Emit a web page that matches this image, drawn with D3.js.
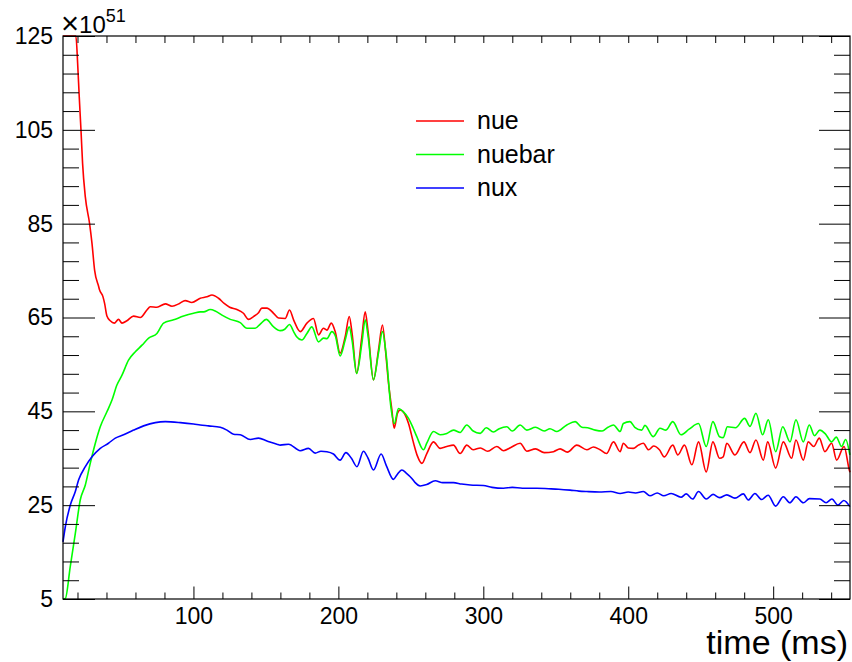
<!DOCTYPE html>
<html><head><meta charset="utf-8">
<script src="https://cdn.jsdelivr.net/npm/d3@7"></script>
<style>
html,body{margin:0;padding:0;background:#fff;}
svg{display:block;font-family:"Liberation Sans",Arial,Helvetica,sans-serif;}
</style></head>
<body>
<svg id="chart" width="852" height="662"></svg>
<script>
const xDomain = [10, 553];
const yDomain = [5, 125];
const xMajorTicks = [100, 200, 300, 400, 500];
const yMajorTicks = [5, 25, 45, 65, 85, 105, 125];
const seriesNames = ["nue", "nuebar", "nux"];
const seriesColors = ["#ff0000", "#00ff00", "#0000ff"];
const xTitle = "time (ms)";

const nue = [[10,135],[14,131],[18,127],[18.9,125.2],[20.1,119.2],[21.2,112.1],[22.4,105],[23.5,97.9],[25.4,90.7],[28.3,85.1],[30,80.8],[31.8,75.1],[34.6,71.6],[35.2,70.9],[37.6,69.4],[38.7,68],[40.3,65.3],[42.6,64.3],[45.4,63.8],[48.3,64.6],[50.7,63.8],[54.1,64.3],[58.7,65.3],[63.3,65],[67.9,66.6],[70.2,67.3],[74.8,67.2],[80.6,67.9],[85.2,67.4],[90.4,68],[94.3,68.6],[98.9,68.2],[104.7,69.1],[109.3,69.4],[112.8,69.8],[117.3,69.1],[121.2,68],[125,67.2],[130,66.7],[134.5,65.9],[138,64.6],[141.4,65.2],[144.9,66],[147.2,67],[150.7,67],[155.3,65.9],[158.7,64.9],[163.3,64.8],[166.3,66.6],[169.1,64.5],[173.7,62],[178.3,63.8],[182.8,64.8],[186.3,61.3],[189.7,62.7],[192.1,62.3],[195.1,63.8],[197.8,62],[201.2,57.4],[204.7,60.9],[207.5,65.2],[209.5,61.5],[212.6,53.1],[216.2,60.9],[218.5,66.2],[220.5,62],[224.2,51.7],[227.7,58.1],[230.4,63.4],[232.5,58],[234.6,51],[236.9,45.3],[238.5,41.4],[240.8,44.6],[242.6,45.3],[245.5,44.6],[248.4,42.4],[251.9,38.2],[254.5,35.5],[257.6,33.9],[261,36],[265.6,38.5],[270.2,37.1],[274.8,37.5],[279.4,37.8],[284,36],[288.6,37.8],[293,36.8],[298,37.2],[303,36.5],[309.3,37.5],[314,36.6],[319,37.3],[325.4,38.2],[330,36.5],[336,37],[342,36.2],[348.4,36.4],[353,37],[358,36.3],[364.5,37.8],[371.4,36.8],[376,37.4],[380.6,36.8],[385,36],[389.8,38.5],[394.4,36.4],[396.6,38.2],[400,37.2],[403.5,37.1],[407,37.8],[410.4,38.2],[414,36.8],[417.5,37.6],[421.5,36.8],[424.9,35.3],[430.7,37.8],[434.2,35.7],[438.8,37.8],[443.9,33.6],[448.5,38.5],[453.8,32.1],[458.4,38.5],[463,35],[465.5,35.3],[468,38.2],[473.6,35.7],[479.8,38.5],[484,36.2],[488.1,38.9],[493.2,34.6],[496.2,38.5],[501.7,32.9],[507,38.5],[512.7,35],[515.7,38.9],[520.8,34.6],[524.2,38.5],[528,37.5],[531.8,39.3],[535.7,36.4],[540.3,38.2],[543.8,34.6],[548.9,37.5],[552.5,32.5],[553,32]];

const nuebar = [[10,2],[11.6,5.1],[15,11.9],[18.5,19],[21.9,26.1],[25.4,29.3],[28.8,33.9],[32.3,38.2],[35.7,41.7],[40.3,44.9],[43.8,47.4],[47.2,50.6],[50.7,52.7],[55.2,55.9],[59.9,57.7],[64.5,59.1],[69.1,60.6],[74.8,61.6],[79.4,63.8],[86.3,64.5],[93.2,65.3],[100.1,65.9],[104.7,66.2],[107,66.2],[111.6,66.7],[115,66.4],[119.7,65.5],[125.4,64.6],[132.3,63.9],[136.9,62.7],[142.6,62.7],[146.1,63.6],[150.2,64.6],[155.3,63],[159.9,62.2],[163,62.5],[166.3,63.5],[169.1,62],[171.2,60.9],[174.8,60.2],[178.3,61.6],[181.7,63],[186.3,59.8],[189.7,60.6],[192.1,60.5],[195.5,62],[198,61],[201.2,56.8],[204.7,60.2],[207.5,63],[209.5,60],[212.6,53.1],[216.2,59.5],[218.5,64.5],[220.5,61],[224.2,51.7],[227.7,57.5],[230.4,62],[233,57],[236.2,46],[238.5,42.4],[241.5,45.6],[244.5,45],[248.4,43.5],[251.5,41.5],[254.1,39.6],[258.7,36.8],[261,38.2],[265.6,40.7],[270.2,40],[274.8,40.3],[279.4,41],[284,40.5],[288.6,42.1],[293,40.8],[297.9,40.3],[302,41.5],[307,40.6],[311,41.3],[316.2,41.7],[320,40.8],[325.4,42.1],[330,41],[336,41.6],[342,40.8],[346,41.3],[350.7,40.7],[357.6,42.1],[363.4,42.8],[368,41.6],[372,41.5],[377.2,41],[382,40.8],[386,41.6],[389.8,42.1],[394.4,40.7],[396.6,42.4],[401.2,42.8],[404.5,41.6],[409.3,41],[411.5,42],[417.3,39.6],[421.9,41.4],[426,41],[430.7,42.8],[436.4,40],[442,41.2],[448.5,42.4],[453.8,37.5],[458.4,42.8],[463,39.6],[465.5,39.4],[468.4,41.7],[474,41.5],[480.3,43.5],[484,41.8],[488.1,44.6],[492.7,40],[496.6,43.2],[501.7,36.4],[506.6,41.7],[511.6,38.5],[515.7,43.2],[520.8,38.5],[524.9,42.1],[528.5,39.8],[532.2,41],[536,40.2],[540.3,38.5],[543.5,39.5],[547.2,37.5],[550,39],[552.9,35.7]];

const nux = [[10,17.2],[11.6,20.4],[15,25],[18.5,27.9],[20.8,30.4],[25.4,33.2],[30,35.3],[35.7,37.1],[41.4,38.2],[46.1,39.3],[51.8,40],[58.7,41],[65.6,41.9],[73.7,42.6],[80.6,42.8],[91,42.6],[100.1,42.3],[104.7,42.1],[110.4,41.9],[118.5,41.6],[123.1,41],[127.7,40.1],[132.3,40],[139.2,39],[144.9,39.3],[150.7,38.7],[157.6,38],[159.9,37.8],[165.6,38],[173.7,36.6],[179.4,37.1],[184,36.1],[188,36.5],[192.1,36.4],[196.6,35.9],[201.2,34.6],[205.2,36.2],[209,35],[212.8,33.2],[217.3,36.5],[220.5,35],[224.2,32.5],[229.5,35.9],[233,33.5],[238,30.5],[240.5,31.5],[243.8,32.5],[247,31.8],[250.7,30.7],[253,29.8],[256.4,29.1],[261,29.4],[266.8,30.2],[272,29.8],[279.4,29.8],[285,29.5],[291,29.3],[300,29.2],[306,28.8],[313.9,28.6],[320,28.8],[327,28.6],[336.9,28.6],[345,28.5],[352,28.4],[359.9,28.2],[366,28],[371.4,27.9],[380,27.8],[388,27.9],[394.4,27.5],[400,27.8],[405,27.6],[410.4,27.9],[415,27],[420,27.6],[424.5,27],[429.6,27.5],[436.4,26.7],[440,27.4],[444.4,26.3],[448.5,27.9],[453.8,26.3],[458.5,27.3],[463,26.6],[468,27.2],[473.6,26.5],[479.4,27.4],[482.8,26.1],[487.4,27.5],[492,26.2],[496.5,27.1],[501.7,24.8],[507,26.8],[511.5,25.5],[515.7,26.8],[520.8,25.5],[525,26.4],[532.2,26.3],[536.5,25.5],[540.5,26.3],[544.7,25],[548.7,26],[552.9,24.7]];

const seriesData = [nue, nuebar, nux];

const frame = {left: 63, right: 850, top: 36, bottom: 599};
const svg = d3.select("#chart");
const x = d3.scaleLinear().domain(xDomain).range([frame.left, frame.right]);
const y = d3.scaleLinear().domain(yDomain).range([frame.bottom, frame.top]);

const xMinor = d3.range(20, 553, 20).filter(v => !xMajorTicks.includes(v));
const yMinor = d3.range(5, 125.01, 4).filter(v => !yMajorTicks.includes(v));

// curves
const line = d3.line()
  .curve(d3.curveMonotoneX)
  .x(d => x(d[0]))
  .y(d => y(Math.max(yDomain[0], Math.min(yDomain[1], d[1]))));
seriesData.forEach((data, i) => {
  svg.append("path").datum(data)
    .attr("d", line)
    .attr("fill", "none")
    .attr("stroke", seriesColors[i])
    .attr("stroke-width", 1.6)
    .attr("stroke-linejoin", "round");
});

const axisStyle = g => {
  g.select(".domain").remove();
  g.selectAll(".tick line").attr("stroke", "#000").attr("stroke-width", 1);
};
const labelStyle = g => g.selectAll("text").attr("font-size", 23).attr("fill", "#000")
  .attr("font-family", "Liberation Sans, Arial, sans-serif");
// bottom
svg.append("g").attr("transform", `translate(0,${frame.bottom})`)
  .call(d3.axisBottom(x).tickValues(xMajorTicks).tickSize(-12.5).tickPadding(9).tickFormat(d3.format("d")))
  .call(axisStyle).call(labelStyle);
svg.append("g").attr("transform", `translate(0,${frame.bottom})`)
  .call(d3.axisBottom(x).tickValues(xMinor).tickSize(-6.5).tickFormat(""))
  .call(axisStyle);
// top
svg.append("g").attr("transform", `translate(0,${frame.top})`)
  .call(d3.axisTop(x).tickValues(xMajorTicks.concat(xMinor)).tickSize(-7).tickFormat(""))
  .call(axisStyle);
// left
svg.append("g").attr("transform", `translate(${frame.left},0)`)
  .call(d3.axisLeft(y).tickValues(yMajorTicks).tickSize(-32).tickPadding(10).tickFormat(d3.format("d")))
  .call(axisStyle).call(labelStyle);
svg.append("g").attr("transform", `translate(${frame.left},0)`)
  .call(d3.axisLeft(y).tickValues(yMinor).tickSize(-16).tickFormat(""))
  .call(axisStyle);
// right
svg.append("g").attr("transform", `translate(${frame.right},0)`)
  .call(d3.axisRight(y).tickValues(yMajorTicks).tickSize(-31).tickFormat(""))
  .call(axisStyle);
svg.append("g").attr("transform", `translate(${frame.right},0)`)
  .call(d3.axisRight(y).tickValues(yMinor).tickSize(-16).tickFormat(""))
  .call(axisStyle);

// frame
svg.append("rect")
  .attr("x", frame.left).attr("y", frame.top)
  .attr("width", frame.right - frame.left).attr("height", frame.bottom - frame.top)
  .attr("fill", "none").attr("stroke", "#000").attr("stroke-width", 1.2);

// exponent label
const exp = svg.append("text").attr("x", 61).attr("y", 33).attr("font-size", 24).attr("fill", "#000");
exp.append("tspan").attr("font-size", 31).attr("dy", 1).text("\u00d7");
exp.append("tspan").attr("dy", -1).text("10");
exp.append("tspan").attr("dy", -11).attr("font-size", 18).text("51");

// x title
svg.append("text").attr("x", 848).attr("y", 654).attr("text-anchor", "end")
  .attr("font-size", 34).attr("fill", "#000").text(xTitle);

// legend
const legendY = [121, 154.5, 188];
seriesNames.forEach((name, i) => {
  svg.append("line").attr("x1", 416).attr("x2", 464).attr("y1", legendY[i]).attr("y2", legendY[i])
    .attr("stroke", seriesColors[i]).attr("stroke-width", 1.6);
  svg.append("text").attr("x", 477).attr("y", legendY[i] + 8).attr("font-size", 25).attr("fill", "#000").text(name);
});
</script>
</body></html>
